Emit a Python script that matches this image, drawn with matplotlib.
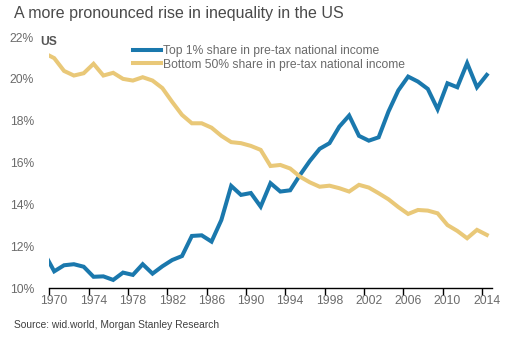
import matplotlib
matplotlib.use("Agg")
import matplotlib.pyplot as plt

# Annual shares of US pre-tax national income (%), 1969-2014
years = list(range(1969, 2015))
top1 = [11.67, 10.81, 11.10, 11.15, 11.03, 10.55, 10.57, 10.40, 10.75, 10.64,
        11.15, 10.70, 11.05, 11.35, 11.54, 12.50, 12.53, 12.23, 13.26, 14.89,
        14.46, 14.55, 13.90, 15.02, 14.62, 14.68, 15.41, 16.08, 16.66, 16.93,
        17.72, 18.25, 17.28, 17.05, 17.21, 18.44, 19.45, 20.11, 19.87, 19.52,
        18.55, 19.79, 19.60, 20.75, 19.60, 20.19]
bottom50 = [21.23, 20.99, 20.38, 20.16, 20.27, 20.72, 20.16, 20.29, 20.00, 19.92,
            20.08, 19.92, 19.56, 18.90, 18.28, 17.88, 17.88, 17.67, 17.28, 16.98,
            16.93, 16.80, 16.61, 15.84, 15.89, 15.72, 15.33, 15.06, 14.85, 14.90,
            14.78, 14.62, 14.94, 14.81, 14.54, 14.25, 13.88, 13.55, 13.74, 13.71,
            13.58, 13.02, 12.74, 12.39, 12.79, 12.55]
series_labels = ["Top 1% share in pre-tax national income",
                 "Bottom 50% share in pre-tax national income"]
year_labels = list(range(1970, 2015, 4))
pct_ticks = [10, 12, 14, 16, 18, 20, 22]

BLUE = "#1a78ad"
GOLD = "#e9c878"
GRAY = "#6b6b6b"

plt.rcParams["font.family"] = ["Liberation Sans", "DejaVu Sans"]

fig = plt.figure(figsize=(5.08, 3.40), dpi=100)
ax = fig.add_axes([49.3 / 508, 51.7 / 340, 442.4 / 508, 251.3 / 340])

ax.plot(years, top1, color=BLUE, lw=2.9, solid_joinstyle="miter",
        label=series_labels[0], clip_on=True)
ax.plot(years, bottom50, color=GOLD, lw=2.9, solid_joinstyle="miter",
        label=series_labels[1], clip_on=True)

ax.set_xlim(1969.5, 2014.5)
ax.set_ylim(10, 22)

# category-style axis: ticks between years, labels centred on years
ax.set_xticks([y - 0.5 for y in year_labels])
ax.set_xticklabels([])
ax.set_xticks(year_labels, minor=True)
ax.set_xticklabels([str(y) for y in year_labels], minor=True)
ax.tick_params(axis="x", which="major", length=5, width=1, color="black",
               direction="out")
ax.tick_params(axis="x", which="minor", length=0, pad=5, labelsize=8.7,
               labelcolor=GRAY)

ax.set_yticks(pct_ticks)
ax.set_yticklabels([f"{v}%" for v in pct_ticks])
ax.tick_params(axis="y", length=0, pad=11, labelsize=8.7, labelcolor=GRAY)

for side in ("top", "right", "left"):
    ax.spines[side].set_visible(False)
ax.spines["bottom"].set_color("black")
ax.spines["bottom"].set_linewidth(1.0)

leg = ax.legend(loc="upper left", bbox_to_anchor=(0.17, 1.0), frameon=False,
                fontsize=8.7, handlelength=2.3, handletextpad=0.2,
                labelspacing=0.1, borderpad=0.2)
for t in leg.get_texts():
    t.set_color(GRAY)

fig.text(14 / 508, 1 - 13.5 / 340, "A more pronounced rise in inequality in the US",
         fontsize=11.5, color="#4a4a4a", va="center", ha="left")
fig.text(40.5 / 508, 1 - 42 / 340, "US", fontsize=8.7, fontweight="bold",
         color="#555555", va="center", ha="left")
fig.text(14 / 508, 1 - 325 / 340, "Source: wid.world, Morgan Stanley Research",
         fontsize=7.4, color="#404040", va="center", ha="left")

fig.savefig("out.png", dpi=100)
